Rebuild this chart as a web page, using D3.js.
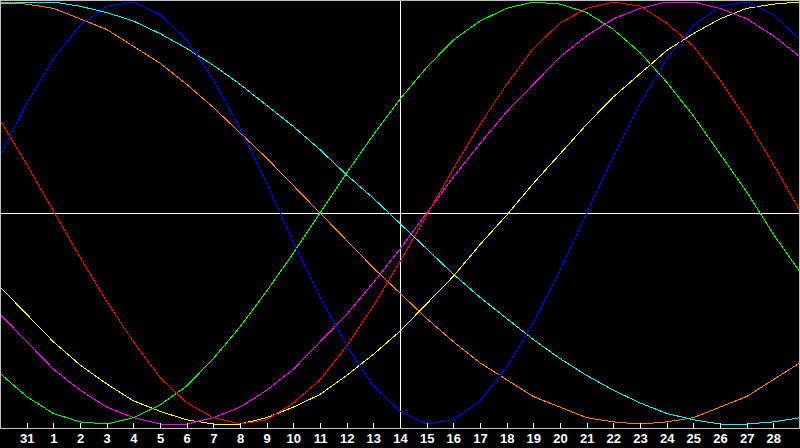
<!DOCTYPE html>
<html>
<head>
<meta charset="utf-8">
<script src="https://cdn.jsdelivr.net/npm/d3@7"></script>
<style>
  html, body { margin: 0; padding: 0; background: #000; overflow: hidden; }
  .tick-label { font-family: "Liberation Sans", Arial, sans-serif; font-weight: bold; font-size: 13px; fill: #fff; }
</style>
</head>
<body>
<div id="chart"></div>
<script>
// Chart size
const width = 800;
const height = 448;
const plotBottom = 428;

// Day labels under the tick marks (ticks 1..29)
const dayLabels = ["31", "1", "2", "3", "4", "5", "6", "7", "8", "9", "10", "11", "12", "13",
  "14", "15", "16", "17", "18", "19", "20", "21", "22", "23", "24", "25", "26", "27", "28"];

// Values, one per day column (31 columns, 0..30)
const physical = [0.27, 0.52, 0.73, 0.89, 0.98, 1.00, 0.94, 0.82, 0.63, 0.40, 0.14, -0.14, -0.40,
  -0.63, -0.82, -0.94, -1.00, -0.98, -0.89, -0.73, -0.52, -0.27, 0.00, 0.27, 0.52, 0.73, 0.89,
  0.98, 1.00, 0.94, 0.82];
const emotional = [0.44, 0.23, 0.01, -0.21, -0.42, -0.61, -0.78, -0.90, -0.97, -1.00, -0.98, -0.90,
  -0.79, -0.63, -0.44, -0.23, -0.01, 0.21, 0.42, 0.61, 0.78, 0.90, 0.97, 1.00, 0.98, 0.90, 0.79,
  0.63, 0.44, 0.23, 0.01];
const intellectual = [-0.76, -0.87, -0.95, -0.99, -1.00, -0.97, -0.91, -0.82, -0.69, -0.54, -0.37,
  -0.19, 0.00, 0.19, 0.37, 0.54, 0.69, 0.82, 0.91, 0.97, 1.00, 0.99, 0.95, 0.87, 0.76, 0.62, 0.46,
  0.28, 0.10, -0.10, -0.28];
const intuitive = [-0.48, -0.61, -0.74, -0.84, -0.92, -0.97, -1.00, -1.00, -0.97, -0.92, -0.84,
  -0.74, -0.61, -0.48, -0.33, -0.17, 0.00, 0.17, 0.33, 0.48, 0.61, 0.74, 0.84, 0.92, 0.97, 1.00,
  1.00, 0.97, 0.92, 0.84, 0.74];
const aesthetic = [-0.35, -0.48, -0.61, -0.72, -0.81, -0.89, -0.94, -0.98, -1.00, -1.00, -0.97,
  -0.92, -0.86, -0.77, -0.67, -0.56, -0.43, -0.30, -0.15, -0.01, 0.14, 0.28, 0.42, 0.55, 0.66,
  0.77, 0.85, 0.92, 0.97, 0.99, 1.00];
const awareness = [1.00, 0.99, 0.97, 0.92, 0.87, 0.79, 0.71, 0.61, 0.50, 0.38, 0.26, 0.13, 0.00,
  -0.13, -0.26, -0.38, -0.50, -0.61, -0.71, -0.79, -0.87, -0.92, -0.97, -0.99, -1.00, -0.99, -0.97,
  -0.92, -0.87, -0.79, -0.71];
const spiritual = [0.99, 1.00, 1.00, 0.98, 0.95, 0.91, 0.85, 0.78, 0.70, 0.61, 0.51, 0.41, 0.30,
  0.18, 0.07, -0.05, -0.17, -0.29, -0.40, -0.50, -0.60, -0.69, -0.77, -0.84, -0.90, -0.95, -0.98,
  -1.00, -1.00, -0.99, -0.97];

const series = [
  { name: "awareness", values: awareness, color: "#ff8000" },
  { name: "spiritual", values: spiritual, color: "#00ffff" },
  { name: "aesthetic", values: aesthetic, color: "#ffff00" },
  { name: "intuitive", values: intuitive, color: "#ff00ff" },
  { name: "intellectual", values: intellectual, color: "#00ff00" },
  { name: "emotional", values: emotional, color: "#ff0000" },
  { name: "physical", values: physical, color: "#0000ff" }
];

const svg = d3
  .select("#chart")
  .append("svg")
  .attr("width", width)
  .attr("height", height);

// Scales
const xScale = d3.scaleLinear().domain([0, 30]).range([0, width]);
const yScale = d3.scaleLinear().domain([-1, 1]).range([424, 2]);

// Background
svg.append("rect").attr("width", width).attr("height", height).attr("fill", "#000");

// Crosshair through the middle day and zero line
svg.append("line")
  .attr("x1", 0).attr("x2", width)
  .attr("y1", Math.round(yScale(0)) + 0.5).attr("y2", Math.round(yScale(0)) + 0.5)
  .attr("stroke", "#fff").attr("shape-rendering", "crispEdges");
svg.append("line")
  .attr("x1", xScale(15) + 0.5).attr("x2", xScale(15) + 0.5)
  .attr("y1", 0).attr("y2", plotBottom)
  .attr("stroke", "#fff").attr("shape-rendering", "crispEdges");

// Curves (aliased, like the original pixel lines)
const line = d3.line()
  .x((d, i) => xScale(i))
  .y((d) => yScale(d));

svg.selectAll(".curve")
  .data(series)
  .enter()
  .append("path")
  .attr("class", "curve")
  .attr("d", (d) => line(d.values))
  .attr("fill", "none")
  .attr("stroke", (d) => d.color)
  .attr("stroke-width", 1)
  .attr("shape-rendering", "crispEdges");

// Frame
svg.append("path")
  .attr("d", `M0.5,${plotBottom} V0.5 H${width - 0.5} V${plotBottom}`)
  .attr("fill", "none")
  .attr("stroke", "#c0c0c0")
  .attr("shape-rendering", "crispEdges");

// Bottom axis with day labels
const axis = d3.axisBottom(xScale)
  .tickValues(d3.range(1, 30))
  .tickSize(0)
  .tickFormat((d) => dayLabels[d - 1]);

const axisG = svg.append("g")
  .attr("transform", `translate(0, ${plotBottom})`)
  .call(axis);

axisG.select(".domain").remove();
axisG.selectAll("text")
  .attr("class", "tick-label")
  .attr("dy", null)
  .attr("y", 15);

// Small white tick marks above the axis line
svg.selectAll(".tick-mark")
  .data(d3.range(1, 30))
  .enter()
  .append("line")
  .attr("class", "tick-mark")
  .attr("x1", (d) => Math.round(xScale(d)) + 0.5)
  .attr("x2", (d) => Math.round(xScale(d)) + 0.5)
  .attr("y1", plotBottom - 5)
  .attr("y2", plotBottom)
  .attr("stroke", "#fff")
  .attr("shape-rendering", "crispEdges");

// Axis line
svg.append("line")
  .attr("x1", 0).attr("x2", width)
  .attr("y1", plotBottom + 0.5).attr("y2", plotBottom + 0.5)
  .attr("stroke", "#c0c0c0")
  .attr("shape-rendering", "crispEdges");
</script>
</body>
</html>
